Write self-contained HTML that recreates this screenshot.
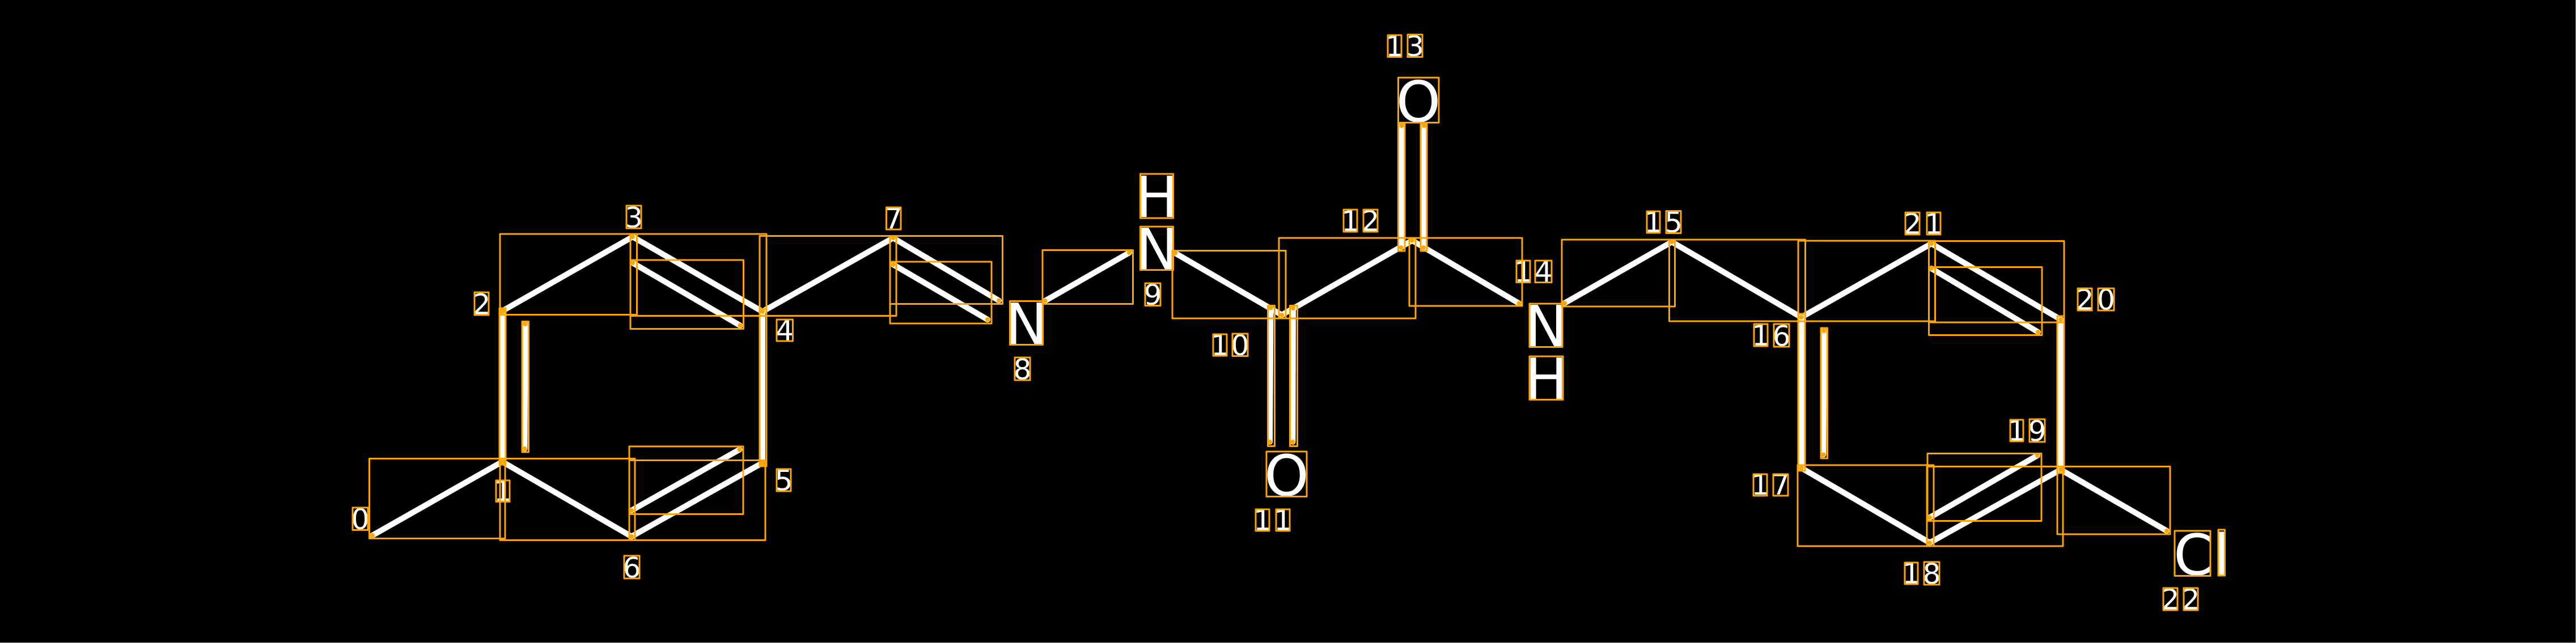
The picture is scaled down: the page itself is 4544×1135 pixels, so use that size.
<!DOCTYPE html>
<html><head><meta charset="utf-8"><style>
html,body{margin:0;padding:0;background:#000;width:4544px;height:1135px;overflow:hidden}
svg{display:block;position:absolute;left:0;top:0}
.b line{stroke:#fff;stroke-width:10;stroke-linecap:round}
.o rect{fill:none;stroke:#FFA500;stroke-width:3;stroke-linejoin:round}
.d circle{fill:#FFA500}
.s text{font-family:"DejaVu Sans","Liberation Sans",sans-serif;font-size:50px;fill:#fff;text-anchor:middle}
.a text{font-family:"DejaVu Sans","Liberation Sans",sans-serif;font-size:100px;fill:#fff;text-anchor:middle}
</style></head><body>
<svg width="4544" height="1135" viewBox="0 0 4544 1135" xmlns="http://www.w3.org/2000/svg">
<rect width="4544" height="1135" fill="#000"/>
<rect x="0" y="1134" width="4544" height="1" fill="#999"/>
<rect x="4543" y="0" width="1" height="1135" fill="#999"/>
<g class="b">
<line x1="657" y1="945" x2="886" y2="815"/>
<line x1="886" y1="815" x2="886" y2="549"/>
<line x1="926.5" y1="572" x2="925.5" y2="792"/>
<line x1="886" y1="549" x2="1116" y2="418"/>
<line x1="1116" y1="418" x2="1345" y2="550"/>
<line x1="1116" y1="464" x2="1305.5" y2="574.5"/>
<line x1="1345" y1="550" x2="1345" y2="817"/>
<line x1="1345" y1="817" x2="1114" y2="947"/>
<line x1="1304.5" y1="793.5" x2="1114" y2="901"/>
<line x1="1114" y1="947" x2="886" y2="815"/>
<line x1="1345" y1="550" x2="1575.5" y2="420"/>
<line x1="1575.5" y1="420" x2="1762" y2="530.5"/>
<line x1="1575.5" y1="467" x2="1742" y2="564"/>
<line x1="1843.5" y1="531" x2="1992" y2="446"/>
<line x1="2072.5" y1="446.5" x2="2261" y2="556"/>
<line x1="2261" y1="556" x2="2491" y2="424.5"/>
<line x1="2241.5" y1="543" x2="2240" y2="780"/>
<line x1="2281" y1="544" x2="2280.5" y2="780"/>
<line x1="2472.5" y1="222" x2="2471.5" y2="437"/>
<line x1="2512" y1="222" x2="2511" y2="437"/>
<line x1="2491" y1="424.5" x2="2679.5" y2="535.5"/>
<line x1="2760" y1="535" x2="2949" y2="427"/>
<line x1="2949" y1="427" x2="3177.5" y2="560"/>
<line x1="3177.5" y1="560" x2="3177.5" y2="826"/>
<line x1="3217.5" y1="584" x2="3216.5" y2="802.5"/>
<line x1="3177.5" y1="826" x2="3404" y2="958"/>
<line x1="3177.5" y1="560" x2="3407" y2="430"/>
<line x1="3407" y1="430" x2="3635" y2="564"/>
<line x1="3407" y1="474" x2="3595" y2="586"/>
<line x1="3635" y1="564" x2="3635" y2="829"/>
<line x1="3635" y1="829" x2="3404" y2="958"/>
<line x1="3594" y1="804" x2="3404" y2="913.5"/>
<line x1="3635" y1="829" x2="3822" y2="937"/>
</g>
<g class="a">
<text x="1810.5" y="607">N</text>
<text x="2040.5" y="475">N</text>
<text x="2040.5" y="383">H</text>
<text x="2727" y="611">N</text>
<text x="2727.5" y="704">H</text>
<text x="2502" y="214.5">O</text>
<text x="2269.5" y="874.5">O</text>
<text x="3869" y="1014.5">C</text>
<text x="3918.5" y="1014.5">l</text>
</g>
<g class="s">
<text x="635.5" y="934">0</text>
<text x="887" y="884">1</text>
<text x="849.5" y="554.5">2</text>
<text x="1118" y="401.5">3</text>
<text x="1384" y="600.5">4</text>
<text x="1382.5" y="865.5">5</text>
<text x="1114.5" y="1019.5">6</text>
<text x="1576" y="403.5">7</text>
<text x="1803.5" y="669.5">8</text>
<text x="2033.5" y="538">9</text>
<text x="2152" y="626.5">1</text><text x="2187.5" y="627">0</text>
<text x="2227" y="935.5">1</text><text x="2263" y="935.5">1</text>
<text x="2382" y="407.5">1</text><text x="2417.5" y="407.5">2</text>
<text x="2460" y="99">1</text><text x="2496" y="99">3</text>
<text x="2687" y="497">1</text><text x="2722.5" y="497">4</text>
<text x="2916.5" y="409.5">1</text><text x="2952" y="410">5</text>
<text x="3106" y="609.5">1</text><text x="3142.5" y="610.5">6</text>
<text x="3105" y="873">1</text><text x="3141" y="873">7</text>
<text x="3371.5" y="1029.5">1</text><text x="3407.5" y="1030.5">8</text>
<text x="3557.5" y="777.5">1</text><text x="3593.5" y="778.5">9</text>
<text x="3677.5" y="546.5">2</text><text x="3715" y="546.5">0</text>
<text x="3373.5" y="412.5">2</text><text x="3411" y="412.5">1</text>
<text x="3828.5" y="1075.5">2</text><text x="3864.5" y="1075.5">2</text>
</g>
<g class="o">
<rect x="651.5" y="809.5" width="239.5" height="141"/>
<rect x="882" y="809.5" width="238" height="144"/>
<rect x="1110" y="812.5" width="240" height="141"/>
<rect x="1110" y="788" width="201" height="119.5"/>
<rect x="882" y="413" width="241.5" height="142.5"/>
<rect x="1112" y="413" width="240" height="144.5"/>
<rect x="1112" y="459" width="199.5" height="121.5"/>
<rect x="881" y="544" width="11" height="276"/>
<rect x="921" y="567.5" width="11.5" height="230.5"/>
<rect x="1340" y="545.5" width="12" height="277.5"/>
<rect x="1340" y="416.5" width="241" height="141"/>
<rect x="1570" y="416.5" width="198.5" height="120"/>
<rect x="1570" y="462" width="179" height="109"/>
<rect x="1839" y="441.5" width="159.5" height="95"/>
<rect x="2068" y="442.5" width="200" height="119.5"/>
<rect x="2256" y="420" width="241" height="142"/>
<rect x="2486" y="420" width="199" height="120"/>
<rect x="2466.5" y="217.5" width="11.5" height="225.5"/>
<rect x="2506" y="217.5" width="11" height="225.5"/>
<rect x="2236.5" y="539.5" width="12" height="248"/>
<rect x="2275.5" y="539.5" width="13" height="248"/>
<rect x="2755" y="423" width="199.5" height="118"/>
<rect x="2944.5" y="423" width="240" height="144"/>
<rect x="3172" y="554" width="12" height="277"/>
<rect x="3212" y="579" width="11.5" height="230"/>
<rect x="3172" y="425" width="241.5" height="142"/>
<rect x="3171" y="821" width="240" height="143"/>
<rect x="3402.5" y="425.5" width="238.5" height="143.5"/>
<rect x="3402.5" y="471.5" width="199.5" height="120"/>
<rect x="3629" y="558" width="12" height="277"/>
<rect x="3399" y="823.5" width="240" height="140.5"/>
<rect x="3400" y="800.5" width="201" height="119"/>
<rect x="3629" y="823.5" width="199" height="119.5"/>
<!-- atom boxes -->
<rect x="1781.5" y="531.5" width="58" height="77"/>
<rect x="2011.5" y="400" width="58" height="76.5"/>
<rect x="2011.5" y="307" width="58" height="78"/>
<rect x="2698" y="536" width="58" height="76.5"/>
<rect x="2698" y="629" width="59" height="76.5"/>
<rect x="2466.5" y="137" width="71.5" height="79.5"/>
<rect x="2234" y="797" width="71" height="79.5"/>
<rect x="3836" y="937" width="63" height="79.5"/>
<rect x="3913" y="935" width="11.5" height="81"/>
<!-- label boxes -->
<rect x="622" y="896" width="27" height="39.5"/>
<rect x="875" y="848" width="24" height="37.5"/>
<rect x="837" y="516" width="25" height="40"/>
<rect x="1105" y="363" width="26" height="40"/>
<rect x="1370" y="564" width="28.5" height="38"/>
<rect x="1370" y="828" width="25" height="39"/>
<rect x="1101" y="981" width="27" height="40"/>
<rect x="1563.5" y="366" width="25.5" height="39"/>
<rect x="1790" y="631" width="27" height="40"/>
<rect x="2020" y="500" width="27" height="39.5"/>
<rect x="2140" y="590" width="24" height="38"/><rect x="2174" y="589" width="27" height="39.5"/>
<rect x="2215" y="899" width="24" height="38"/><rect x="2251" y="899" width="24" height="38"/>
<rect x="2370" y="370" width="24" height="39"/><rect x="2405" y="370" width="25" height="39"/>
<rect x="2448" y="62" width="24" height="38.5"/><rect x="2483" y="61" width="26" height="39.5"/>
<rect x="2675" y="460" width="24" height="38.5"/><rect x="2708" y="460" width="29" height="38.5"/>
<rect x="2905" y="373" width="23" height="38"/><rect x="2939" y="372.5" width="26" height="39"/>
<rect x="3094" y="572" width="24" height="39"/><rect x="3129" y="572" width="27" height="40"/>
<rect x="3093" y="837" width="24" height="38"/><rect x="3128" y="837" width="26" height="38"/>
<rect x="3360" y="993" width="23" height="38"/><rect x="3394" y="992" width="27" height="40"/>
<rect x="3546" y="741" width="23" height="38"/><rect x="3580" y="740" width="27" height="40"/>
<rect x="3665" y="509" width="25" height="39"/><rect x="3701" y="509" width="28" height="39"/>
<rect x="3361" y="375" width="25" height="39"/><rect x="3399" y="375" width="24" height="39"/>
<rect x="3816" y="1038" width="25" height="39"/><rect x="3852" y="1038" width="25" height="39"/>
</g>
<g class="d">
<circle cx="657" cy="945" r="4"/><circle cx="886" cy="815" r="4"/><circle cx="886" cy="549" r="5"/>
<circle cx="1116" cy="418" r="4"/><circle cx="1345" cy="550" r="4"/><circle cx="1345" cy="817" r="5"/>
<circle cx="1114" cy="947" r="4"/><circle cx="926.5" cy="572" r="4"/><circle cx="925.5" cy="792" r="4"/>
<circle cx="1116" cy="464" r="4"/><circle cx="1305.5" cy="574.5" r="4"/><circle cx="1304.5" cy="793.5" r="4"/>
<circle cx="1114" cy="901" r="4"/><circle cx="1575.5" cy="420" r="4"/><circle cx="1762" cy="530.5" r="4"/>
<circle cx="1575.5" cy="467" r="4"/><circle cx="1742" cy="564" r="4"/><circle cx="1843.5" cy="531" r="4"/>
<circle cx="1992" cy="446" r="4"/><circle cx="2072.5" cy="446.5" r="4.5"/><circle cx="2261" cy="556" r="4"/>
<circle cx="2491" cy="424.5" r="4"/><circle cx="2241.5" cy="543" r="4.5"/><circle cx="2281" cy="544" r="4"/>
<circle cx="2240" cy="780" r="4"/><circle cx="2280.5" cy="780" r="4"/><circle cx="2472.5" cy="222" r="4"/>
<circle cx="2471.5" cy="437" r="4"/><circle cx="2512" cy="222" r="4"/><circle cx="2511" cy="437" r="4"/>
<circle cx="2679.5" cy="535.5" r="4"/><circle cx="2760" cy="535" r="4"/><circle cx="2949" cy="427" r="4"/>
<circle cx="3177.5" cy="560" r="4"/><circle cx="3177.5" cy="826" r="4"/><circle cx="3217.5" cy="584" r="4"/>
<circle cx="3216.5" cy="802.5" r="4"/><circle cx="3404" cy="958" r="4"/><circle cx="3407" cy="430" r="4"/>
<circle cx="3635" cy="564" r="4"/><circle cx="3407" cy="474" r="4"/><circle cx="3595" cy="586" r="4"/>
<circle cx="3635" cy="829" r="4"/><circle cx="3594" cy="804" r="4"/><circle cx="3404" cy="913.5" r="4"/>
<circle cx="3822" cy="937" r="4"/>
</g>
</svg>
</body></html>
